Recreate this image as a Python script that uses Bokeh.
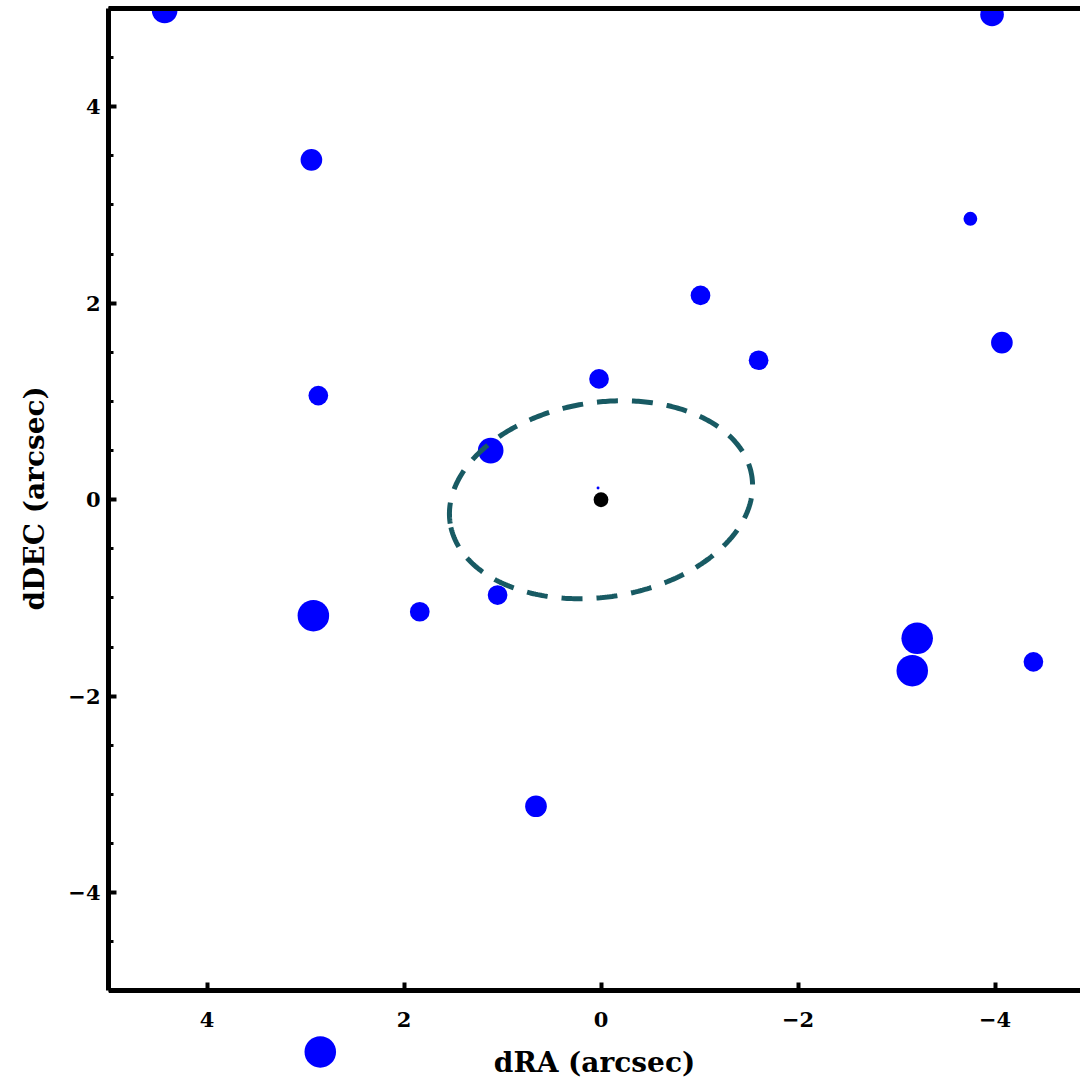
import numpy as np
from bokeh.plotting import figure
from bokeh.models import Range1d, FixedTicker, LinearAxis, Title
from bokeh.embed import file_html
from bokeh.resources import INLINE

# ---- data (arcsec) ----
src_ra = [4.43, -3.97, 2.94, -3.75, -1.01, -1.60, -4.07, 0.02, 2.87, 1.12,
          2.92, 1.84, 1.05, -3.21, -3.16, -4.39, 0.66, 2.85, 0.03]
src_dec = [4.98, 4.94, 3.46, 2.86, 2.08, 1.42, 1.60, 1.23, 1.06, 0.50,
           -1.18, -1.14, -0.97, -1.41, -1.74, -1.65, -3.12, -5.62, 0.12]
src_rad = [0.13, 0.12, 0.11, 0.07, 0.10, 0.10, 0.11, 0.10, 0.10, 0.13,
           0.16, 0.10, 0.10, 0.16, 0.16, 0.10, 0.11, 0.16, 0.015]

target_ra = [0.0]
target_dec = [0.0]
target_rad = [0.075]

# error ellipse: centre, semi-axes (arcsec), position angle (deg)
ell_center = (0.0, 0.0)
ell_a = 1.55
ell_b = 0.99
ell_angle = -9.0

x_ticks = [-4, -2, 0, 2, 4]
y_ticks = [-4, -2, 0, 2, 4]
y_minor = [v / 2 for v in range(-10, 11)]

def lab(v):
    return ("\u2212" + str(abs(v))) if v < 0 else str(v)

FONT = "DejaVu Serif"
TICK_SIZE = "21px"
LABEL_SIZE = "28px"

p = figure(width=1080, height=1080, output_backend="svg", toolbar_location=None,
           x_range=Range1d(5, -4.868), y_range=Range1d(-5.911, 5.0),
           x_axis_location=None, y_axis_location="left",
           min_border_left=108, min_border_right=0, min_border_top=8,
           min_border_bottom=0, outline_line_color=None,
           background_fill_color="white", border_fill_color="white")
p.grid.visible = False

# left axis
ya = p.yaxis[0]
ya.bounds = (-5, 5)
ya.ticker = FixedTicker(ticks=y_ticks, minor_ticks=y_minor)
ya.major_label_overrides = {float(v): lab(v) for v in y_ticks}
ya.axis_line_width = 5
ya.major_tick_in = 8
ya.major_tick_out = 0
ya.minor_tick_in = 5
ya.minor_tick_out = 0
ya.major_tick_line_width = 4
ya.minor_tick_line_width = 3
ya.major_label_text_font = FONT
ya.major_label_text_font_style = "bold"
ya.major_label_text_font_size = TICK_SIZE
ya.major_label_text_color = "black"
ya.major_label_standoff = 8

# y-axis title, placed so that it is centred on dDEC = 0
p.add_layout(Title(text="dDEC (arcsec)", align="left", offset=470,
                   text_font=FONT, text_font_style="bold",
                   text_font_size=LABEL_SIZE, text_color="black",
                   standoff=30), "left")

# bottom axis fixed at y = -5 so that sources beyond it still show
xa = LinearAxis(fixed_location=-5)
xa.ticker = FixedTicker(ticks=x_ticks)
xa.major_label_overrides = {float(v): lab(v) for v in x_ticks}
xa.axis_line_width = 5
xa.major_tick_in = 8
xa.major_tick_out = 0
xa.minor_tick_line_color = None
xa.major_tick_line_width = 4
xa.major_label_text_font = FONT
xa.major_label_text_font_style = "bold"
xa.major_label_text_font_size = TICK_SIZE
xa.major_label_text_color = "black"
xa.major_label_standoff = 21
xa.axis_label = "dRA (arcsec)"
xa.axis_label_text_font = FONT
xa.axis_label_text_font_style = "bold"
xa.axis_label_text_font_size = LABEL_SIZE
xa.axis_label_text_color = "black"
xa.axis_label_standoff = 16
p.add_layout(xa, "below")

# top frame edge
ta = LinearAxis(ticker=FixedTicker(ticks=[]), major_label_text_font_size="0px",
                axis_line_width=5, major_tick_in=0, major_tick_out=0,
                minor_tick_line_color=None, major_tick_line_color=None)
p.add_layout(ta, "above")

# sources
p.circle(src_ra, src_dec, radius=src_rad, color="#0000ff", line_color=None)
p.circle(target_ra, target_dec, radius=target_rad, color="black", line_color=None)

# error ellipse
t = np.linspace(0, 2 * np.pi, 400)
phi = np.deg2rad(ell_angle)
ex = ell_center[0] + ell_a * np.cos(t) * np.cos(phi) - ell_b * np.sin(t) * np.sin(phi)
ey = ell_center[1] + ell_a * np.cos(t) * np.sin(phi) + ell_b * np.sin(t) * np.cos(phi)
p.line(ex, ey, line_color="#185a63", line_width=5, line_dash="21 14")

open("out.html", "w").write(file_html(p, INLINE))
